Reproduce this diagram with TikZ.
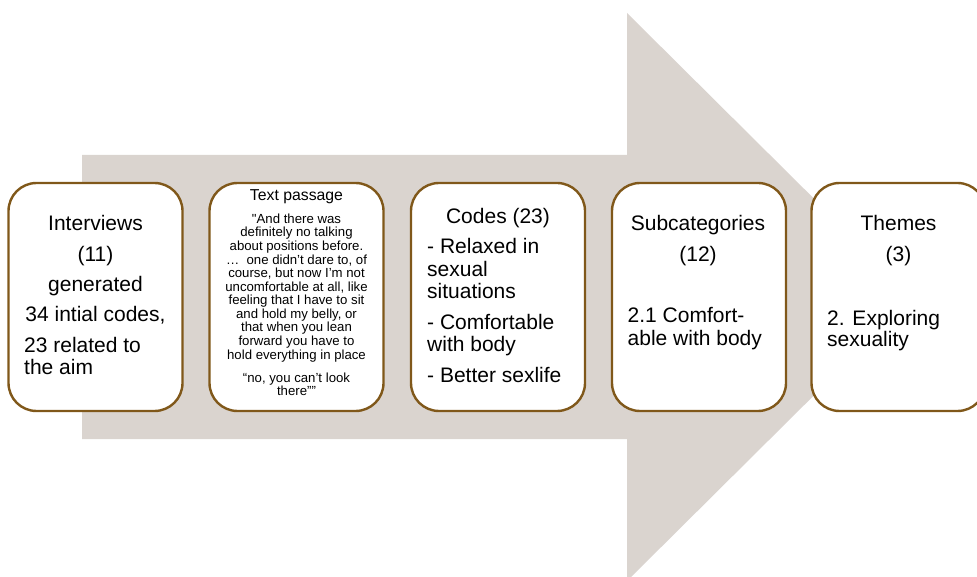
\documentclass[tikz,border=0pt]{standalone}
\usepackage{fontspec}
\setmainfont{Liberation Sans}
\newfontfamily\plainquote{Liberation Sans}[Ligatures=TeXOff]
\definecolor{arrowfill}{RGB}{218,212,207}
\definecolor{boxline}{RGB}{128,88,26}
\begin{document}
\begin{tikzpicture}[x=1pt,y=-1pt,
  box/.style={draw=boxline, line width=2.4pt, fill=white, rounded corners=28pt,
    minimum width=174pt, minimum height=228pt, inner sep=0pt},
  big/.style={font=\fontsize{21}{22.5}\selectfont, inner sep=0pt},
  mid/.style={font=\fontsize{15.8}{17}\selectfont, inner sep=0pt},
  small/.style={font=\fontsize{13.2}{13.6}\selectfont, inner sep=0pt}]
\useasboundingbox (0,0) rectangle (977,577);
\clip (0,0) rectangle (977,577);
% big arrow
\fill[arrowfill] (82,155) -- (627,155) -- (627,13) -- (913,297) -- (627,581)
  -- (627,439) -- (82,439) -- cycle;
% boxes
\node[box] (b1) at (95.5,297) {};
\node[box] (b2) at (296.5,297) {};
\node[box] (b3) at (498,297) {};
\node[box] (b4) at (699,297) {};
\node[box] (b5) at (898.5,297) {};
% box 1
\node[big, anchor=base] (t1a) at (95.5,231) {Interviews};
\node[big, anchor=base] (t1b) at (95.5,262) {(11)};
\node[big, anchor=base] (t1c) at (95.5,292) {generated};
\node[big, anchor=base] (t1d) at (95.5,322) {34 intial codes,};
\node[big, anchor=base west] (t1e) at (24,352) {23 related to};
\node[big, anchor=base west] (t1f) at (24,374) {the aim};
% box 2
\node[mid, anchor=base] (t2h) at (296.5,201) {Text passage};
\foreach \t [count=\i] in {{{\plainquote"}And there was},{definitely no talking},{about positions before.},
  {…\ \ one didn’t dare to, of},{course, but now I’m not},{uncomfortable at all, like},
  {feeling that I have to sit},{and hold my belly, or},{that when you lean},
  {forward you have to},{hold everything in place}}
  \node[small, anchor=base] (tp\i) at (296.5,{223.3+(\i-1)*13.57}) {\t};
\node[small, anchor=base] (tq1) at (296.5,382) {“no, you can’t look};
\node[small, anchor=base] (tq2) at (296.5,395) {there””};
% box 3
\node[big, anchor=base] (t3a) at (498,224) {Codes (23)};
\node[big, anchor=base west] (t3b) at (427,254) {- Relaxed in};
\node[big, anchor=base west] (t3c) at (427,276.5) {sexual};
\node[big, anchor=base west] (t3d) at (427,298.5) {situations};
\node[big, anchor=base west] (t3e) at (427,329) {- Comfortable};
\node[big, anchor=base west] (t3f) at (427,351) {with body};
\node[big, anchor=base west] (t3g) at (427,382.5) {- Better sexlife};
% box 4
\node[big, anchor=base] (t4a) at (698,231) {Subcategories};
\node[big, anchor=base] (t4b) at (698,262) {(12)};
\node[big, anchor=base west] (t4c) at (627.5,323) {2.1 Comfort-};
\node[big, anchor=base west] (t4d) at (627.5,345) {able with body};
% box 5
\node[big, anchor=base] (t5a) at (898.5,231) {Themes};
\node[big, anchor=base] (t5b) at (898.5,262) {(3)};
\node[big, anchor=base west] (t5c) at (827,325) {2. Exploring};
\node[big, anchor=base west] (t5d) at (827,346) {sexuality};
\end{tikzpicture}
\end{document}
